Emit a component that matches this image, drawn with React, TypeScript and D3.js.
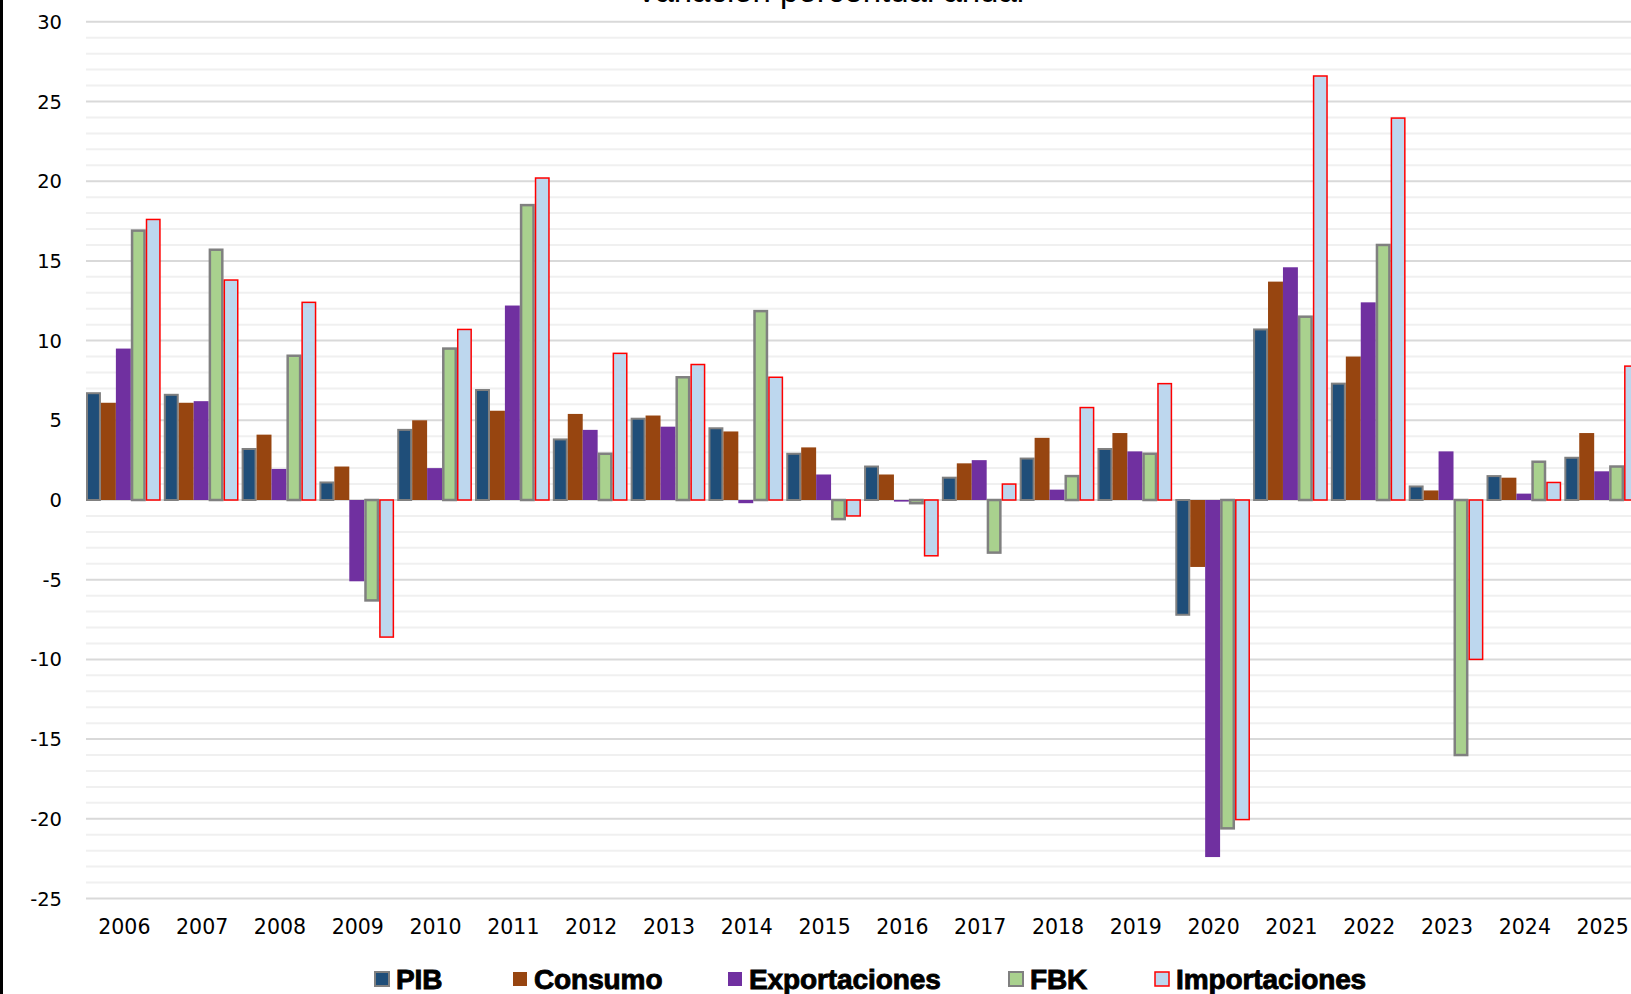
import React, { useRef, useEffect } from "react";
import * as d3 from "d3";

const years = [
  "2006", "2007", "2008", "2009", "2010", "2011", "2012", "2013", "2014", "2015",
  "2016", "2017", "2018", "2019", "2020", "2021", "2022", "2023", "2024", "2025",
];

const pib = [6.7, 6.6, 3.2, 1.1, 4.4, 6.9, 3.8, 5.1, 4.5, 2.9, 2.1, 1.4, 2.6, 3.2, -7.2, 10.7, 7.3, 0.85, 1.5, 2.65];
const consumo = [6.1, 6.1, 4.1, 2.1, 5.0, 5.6, 5.4, 5.3, 4.3, 3.3, 1.6, 2.3, 3.9, 4.2, -4.2, 13.7, 9.0, 0.6, 1.4, 4.2];
const exportaciones = [9.5, 6.2, 1.95, -5.1, 2.0, 12.2, 4.4, 4.6, -0.2, 1.6, -0.1, 2.5, 0.65, 3.05, -22.4, 14.6, 12.4, 3.05, 0.4, 1.8];
const fbk = [16.9, 15.7, 9.05, -6.3, 9.5, 18.5, 2.9, 7.7, 11.85, -1.2, -0.2, -3.3, 1.5, 2.9, -20.6, 11.5, 16.0, -16.0, 2.4, 2.1];
const importaciones = [17.6, 13.8, 12.4, -8.6, 10.7, 20.2, 9.2, 8.5, 7.7, -1.0, -3.5, 1.0, 5.8, 7.3, -20.05, 26.6, 23.96, -10.0, 1.1, 8.4];

const seriesNames = ["PIB", "Consumo", "Exportaciones", "FBK", "Importaciones"];
const seriesValues = [pib, consumo, exportaciones, fbk, importaciones];
const yTicks = [30, 25, 20, 15, 10, 5, 0, -5, -10, -15, -20, -25];

const styles: Record<string, { fill: string; stroke: string; sw: number }> = {
  PIB: { fill: "#1F4E79", stroke: "#808080", sw: 2 },
  Consumo: { fill: "#974510", stroke: "none", sw: 0 },
  Exportaciones: { fill: "#7030A0", stroke: "none", sw: 0 },
  FBK: { fill: "#A9D18E", stroke: "#808080", sw: 2.5 },
  Importaciones: { fill: "#BDD7EE", stroke: "#FF0000", sw: 1.5 },
};

const W = 1631;
const H = 994;

const App = () => {
  const ref = useRef(null);

  useEffect(() => {
    const svg = d3.select(ref.current);
    svg.selectAll("*").remove();

    const left = 86;
    const right = 1639;
    const y = d3.scaleLinear().domain([-25, 30]).range([898.5, 21.8]);
    const x0 = d3.scaleBand().domain(years).range([left, right]).paddingInner(0.04).paddingOuter(0);
    const x1 = d3.scaleBand().domain(seriesNames).range([0, x0.bandwidth()]);

    svg.append("rect").attr("width", W).attr("height", H).attr("fill", "#fff");

    // title, cut off at the top edge like the source screenshot
    svg
      .append("text")
      .attr("x", 830)
      .attr("y", 2)
      .attr("text-anchor", "middle")
      .attr("font-family", "Liberation Sans, Arial, sans-serif")
      .attr("font-size", 33)
      .attr("fill", "#000")
      .text("Variación porcentual anual");

    // grid
    const minor = d3.range(-25, 31, 1);
    svg
      .append("g")
      .selectAll("line")
      .data(minor)
      .enter()
      .append("line")
      .attr("x1", left)
      .attr("x2", W)
      .attr("y1", (d) => y(d))
      .attr("y2", (d) => y(d))
      .attr("stroke", (d) => (d % 5 === 0 ? "#D9D9D9" : "#F0F0F0"))
      .attr("stroke-width", 2);

    // y labels
    svg
      .append("g")
      .selectAll("text")
      .data(yTicks)
      .enter()
      .append("text")
      .attr("x", 62)
      .attr("y", (d) => y(d))
      .attr("dy", "0.36em")
      .attr("text-anchor", "end")
      .attr("font-family", "DejaVu Sans, Verdana, sans-serif")
      .attr("font-size", 19.5)
      .attr("fill", "#000")
      .text((d) => String(d));

    // bars
    const groups = svg
      .append("g")
      .selectAll("g")
      .data(years)
      .enter()
      .append("g")
      .attr("transform", (d) => `translate(${x0(d)},0)`);

    groups
      .selectAll("rect")
      .data((d, i) => seriesNames.map((s, k) => ({ s, v: seriesValues[k][i] })))
      .enter()
      .append("rect")
      .attr("x", (d) => x1(d.s)! + styles[d.s].sw / 2)
      .attr("width", (d) => x1.bandwidth() - styles[d.s].sw)
      .attr("y", (d) => Math.min(y(d.v), y(0)))
      .attr("height", (d) => Math.abs(y(d.v) - y(0)))
      .attr("fill", (d) => styles[d.s].fill)
      .attr("stroke", (d) => styles[d.s].stroke)
      .attr("stroke-width", (d) => styles[d.s].sw);

    // x labels
    svg
      .append("g")
      .selectAll("text")
      .data(years)
      .enter()
      .append("text")
      .attr("x", (d) => x0(d)! + x0.bandwidth() / 2 + 1)
      .attr("y", 934)
      .attr("text-anchor", "middle")
      .attr("font-family", "DejaVu Sans, Verdana, sans-serif")
      .attr("font-size", 20.5)
      .attr("fill", "#000")
      .text((d) => d);

    // legend
    const legendX = [375, 513, 728, 1009, 1155];
    const leg = svg
      .append("g")
      .selectAll("g")
      .data(seriesNames)
      .enter()
      .append("g")
      .attr("transform", (d, i) => `translate(${legendX[i]},979)`);
    leg
      .append("rect")
      .attr("x", 0)
      .attr("y", -7)
      .attr("width", 14)
      .attr("height", 14)
      .attr("fill", (d) => styles[d].fill)
      .attr("stroke", (d) => styles[d].stroke)
      .attr("stroke-width", (d) => Math.min(styles[d].sw, 2));
    leg
      .append("text")
      .attr("x", 21)
      .attr("y", 0)
      .attr("dy", "0.36em")
      .attr("font-family", "Liberation Sans, Arial, sans-serif")
      .attr("font-weight", "bold")
      .attr("font-size", 28)
      .attr("letter-spacing", -0.1)
      .attr("fill", "#000")
      .attr("stroke", "#000")
      .attr("stroke-width", 0.9)
      .text((d) => d);

    // left border
    svg.append("rect").attr("x", 0).attr("y", 0).attr("width", 3).attr("height", H).attr("fill", "#000");
  }, []);

  return (
    <svg
      ref={ref}
      width={W}
      height={H}
      style={{ position: "absolute", left: 0, top: 0, display: "block" }}
    ></svg>
  );
};

export default App;
